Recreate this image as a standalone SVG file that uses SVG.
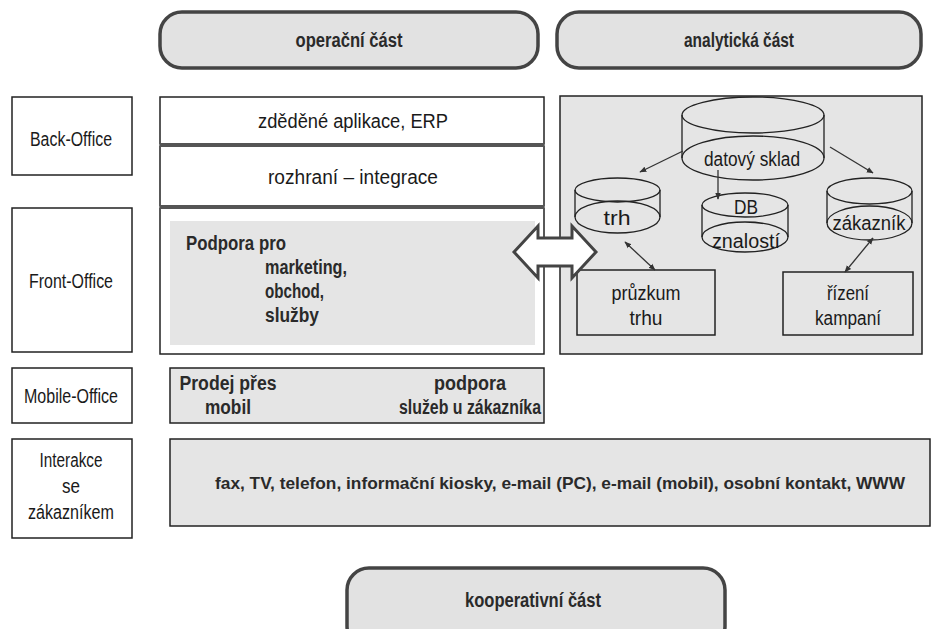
<svg xmlns="http://www.w3.org/2000/svg" width="936" height="629" viewBox="0 0 936 629">
<style>
.box{fill:#fff;stroke:#222;stroke-width:1.5}
.gbox{fill:#e5e5e5;stroke:#222;stroke-width:1.5}
.pill{fill:#e2e2e2;stroke:#444;stroke-width:3.5}
.t{font-family:"Liberation Sans",Arial,sans-serif;font-size:20px;fill:#1a1a1a;text-anchor:middle}
.b{font-weight:bold;font-size:20px;fill:#2a2a2a}
.s{text-anchor:start}
.sep{fill:#555}
.cyl{fill:none;stroke:#222;stroke-width:1.3}
.conn{stroke:#333;stroke-width:1.3;fill:none}
</style>
<defs>
<marker id="ah" viewBox="0 0 10 10" refX="9" refY="5" markerWidth="7" markerHeight="7" orient="auto-start-reverse" markerUnits="userSpaceOnUse">
<path d="M0,1 L10,5 L0,9 Z" fill="#333"/>
</marker>
</defs>
<rect width="936" height="629" fill="#fff"/>

<g id="operacni">
<rect class="pill" x="160" y="12" width="378" height="56" rx="22"/>
<text class="t b" x="349" y="47" textLength="107" lengthAdjust="spacingAndGlyphs">operační část</text>
</g>
<g id="analyticka">
<rect class="pill" x="557" y="12" width="364" height="56" rx="22"/>
<text class="t b" x="739" y="47" textLength="110" lengthAdjust="spacingAndGlyphs">analytická část</text>
</g>

<g id="back-office">
<rect class="box" x="12" y="97" width="120" height="78"/>
<text class="t" x="71" y="146" textLength="82" lengthAdjust="spacingAndGlyphs">Back-Office</text>
</g>
<g id="front-office">
<rect class="box" x="12" y="208" width="120" height="144"/>
<text class="t" x="71" y="288" textLength="84" lengthAdjust="spacingAndGlyphs">Front-Office</text>
</g>
<g id="mobile-office">
<rect class="box" x="12" y="368" width="120" height="55"/>
<text class="t" x="71" y="403" textLength="94" lengthAdjust="spacingAndGlyphs">Mobile-Office</text>
</g>
<g id="interakce">
<rect class="box" x="12" y="439" width="120" height="99"/>
<text class="t" x="71" y="467" textLength="63" lengthAdjust="spacingAndGlyphs">Interakce</text>
<text class="t" x="71" y="493" textLength="18" lengthAdjust="spacingAndGlyphs">se</text>
<text class="t" x="71" y="519" textLength="86" lengthAdjust="spacingAndGlyphs">zákazníkem</text>
</g>

<g id="zdedene">
<rect class="box" x="160" y="97" width="384" height="47"/>
<text class="t" x="353" y="128" textLength="190" lengthAdjust="spacingAndGlyphs">zděděné aplikace, ERP</text>
</g>
<g id="rozhrani">
<rect class="box" x="160" y="146" width="384" height="60"/>
<text class="t" x="353" y="184" textLength="170" lengthAdjust="spacingAndGlyphs">rozhraní – integrace</text>
</g>
<g id="podpora">
<rect class="box" x="160" y="208" width="384" height="146"/>
<rect x="170" y="221" width="365" height="124" fill="#e5e5e5"/>
<text class="t b s" x="186" y="250" textLength="100" lengthAdjust="spacingAndGlyphs">Podpora pro</text>
<text class="t b s" x="265" y="274" textLength="82" lengthAdjust="spacingAndGlyphs">marketing,</text>
<text class="t b s" x="265" y="298" textLength="59" lengthAdjust="spacingAndGlyphs">obchod,</text>
<text class="t b s" x="265" y="322" textLength="54" lengthAdjust="spacingAndGlyphs">služby</text>
</g>
<rect class="sep" x="160" y="143" width="384" height="4"/>
<rect class="sep" x="160" y="205" width="384" height="4"/>

<g id="mobile-content">
<rect class="gbox" x="170" y="368" width="374" height="55"/>
<text class="t b" x="228" y="390" textLength="97" lengthAdjust="spacingAndGlyphs">Prodej přes</text>
<text class="t b" x="228" y="414" textLength="46" lengthAdjust="spacingAndGlyphs">mobil</text>
<text class="t b" x="470" y="390" textLength="72" lengthAdjust="spacingAndGlyphs">podpora</text>
<text class="t b" x="470" y="414" textLength="142" lengthAdjust="spacingAndGlyphs">služeb u zákazníka</text>
</g>

<g id="interakce-content">
<rect class="gbox" x="170" y="439" width="760" height="87"/>
<text class="t b" x="560" y="489" style="font-size:17px" textLength="690" lengthAdjust="spacingAndGlyphs">fax, TV, telefon, informační kiosky, e-mail (PC), e-mail (mobil), osobní kontakt, WWW</text>
</g>

<g id="analytic-panel">
<rect class="gbox" x="560" y="96" width="362" height="258"/>
</g>

<g id="datovy-sklad">
<path class="cyl" d="M682,115 L682,158 M824,115 L824,158"/>
<ellipse class="cyl" cx="753" cy="115" rx="71" ry="18"/>
<ellipse class="cyl" cx="753" cy="158" rx="71" ry="22"/>
<text class="t" x="752" y="166" textLength="96" lengthAdjust="spacingAndGlyphs">datový sklad</text>
</g>
<g id="trh">
<path class="cyl" d="M575,190 L575,217 M660,190 L660,217"/>
<ellipse class="cyl" cx="617.5" cy="190" rx="42.5" ry="12"/>
<ellipse class="cyl" cx="617.5" cy="217" rx="42.5" ry="16"/>
<text class="t" x="617" y="225" textLength="27" lengthAdjust="spacingAndGlyphs">trh</text>
</g>
<g id="db-znalosti">
<path class="cyl" d="M702,205 L702,237 M788,205 L788,237"/>
<ellipse class="cyl" cx="745" cy="205" rx="43" ry="12"/>
<ellipse class="cyl" cx="745" cy="237" rx="43" ry="15"/>
<text class="t" x="746" y="214" textLength="24" lengthAdjust="spacingAndGlyphs">DB</text>
<text class="t" x="746" y="248" textLength="68" lengthAdjust="spacingAndGlyphs">znalostí</text>
</g>
<g id="zakaznik">
<path class="cyl" d="M827,191 L827,223 M912,191 L912,223"/>
<ellipse class="cyl" cx="869.5" cy="191" rx="42.5" ry="13"/>
<ellipse class="cyl" cx="869.5" cy="223" rx="42.5" ry="17"/>
<text class="t" x="869" y="230" textLength="73" lengthAdjust="spacingAndGlyphs">zákazník</text>
</g>
<g id="pruzkum">
<rect class="gbox" x="577" y="270" width="138" height="65"/>
<text class="t" x="646" y="300" textLength="69" lengthAdjust="spacingAndGlyphs">průzkum</text>
<text class="t" x="646" y="325" textLength="33" lengthAdjust="spacingAndGlyphs">trhu</text>
</g>
<g id="rizeni">
<rect class="gbox" x="783" y="272" width="130" height="63"/>
<text class="t" x="848" y="300" textLength="42" lengthAdjust="spacingAndGlyphs">řízení</text>
<text class="t" x="848" y="325" textLength="66" lengthAdjust="spacingAndGlyphs">kampaní</text>
</g>

<g id="kooperativni">
<rect class="pill" x="347" y="568" width="378" height="80" rx="22"/>
<text class="t b" x="533" y="607" textLength="136" lengthAdjust="spacingAndGlyphs">kooperativní část</text>
</g>

<g id="connectors">
<line class="conn" x1="683" y1="151" x2="640" y2="172" marker-end="url(#ah)"/>
<line class="conn" x1="718" y1="170" x2="718" y2="199" marker-end="url(#ah)"/>
<line class="conn" x1="830" y1="147" x2="873" y2="173" marker-end="url(#ah)"/>
<line class="conn" x1="625" y1="242" x2="655" y2="270" marker-start="url(#ah)" marker-end="url(#ah)"/>
<line class="conn" x1="873" y1="238" x2="845" y2="272" marker-start="url(#ah)" marker-end="url(#ah)"/>
<polygon points="514,252 538,226 538,238 572,238 572,226 596,252 572,278 572,266 538,266 538,278" fill="#fff" stroke="#444" stroke-width="3" stroke-linejoin="miter"/>
</g>
</svg>
